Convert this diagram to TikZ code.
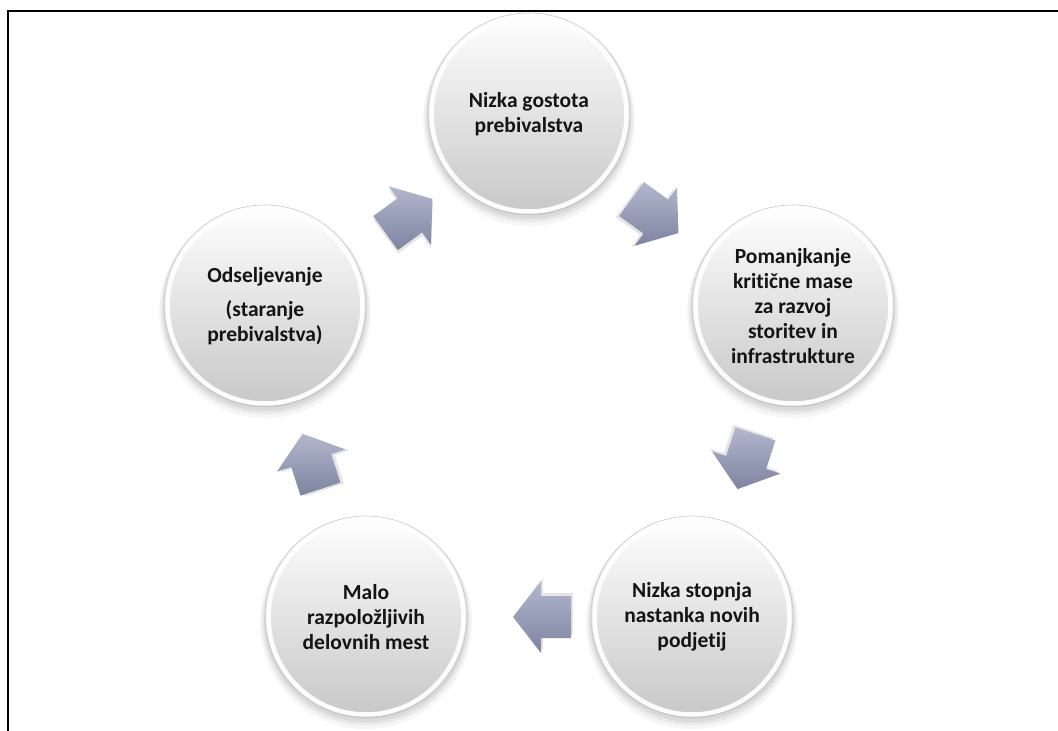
\documentclass[tikz,border=0pt]{standalone}
\usepackage{fontspec}
\setmainfont{Carlito}[Ligatures={NoCommon}]
\usetikzlibrary{calc}
\pgfdeclarelayer{background}
\pgfdeclarelayer{canvas}
\pgfsetlayers{canvas,background,main}
\definecolor{arrowlight}{RGB}{178,183,206}
\definecolor{arrowdark}{RGB}{126,132,160}
\definecolor{txt}{RGB}{20,20,20}
\tikzset{
  ball/.style={circle, minimum size=204pt, inner sep=0pt, align=center,
    font=\bfseries\fontsize{21.5}{25}\selectfont, text=txt},
  arrowshade/.style={top color=arrowlight, bottom color=arrowdark},
  arrowshadow/.style={fill=black, opacity=0.10},
}
\newcommand{\ballbg}[1]{%
  \fill[black, opacity=0.04] ($(#1.center)+(0,6)$) circle (106pt);
  \fill[black, opacity=0.05] ($(#1.center)+(0,4)$) circle (104pt);
  \fill[black, opacity=0.06] ($(#1.center)+(0,3)$) circle (102pt);
  \shade[top color=white, middle color=black!3, bottom color=black!22] (#1.center) circle (101pt);
  \draw[white, line width=4.5pt, opacity=0.95] (#1.center) circle (97.5pt);
  \draw[black!22, line width=0.6pt] (#1.center) circle (101pt);
}
% #1 from, #2 to, #3 fraction, #4 angle, #5 extra shift
\newcommand{\blockarrow}[5]{%
  \begin{scope}[shift={($(#1)!#3!(#2)+(#5)$)}, rotate=#4]
    \fill[arrowshadow] (-31,-18) -- (-1,-18) -- (-1,-33) -- (27,3) -- (-1,39) -- (-1,24) -- (-31,24) -- cycle;
    \shade[arrowshade] (-29,-21) -- (1,-21) -- (1,-36) -- (29,0) -- (1,36) -- (1,21) -- (-29,21) -- cycle;
  \end{scope}
}
\begin{document}
\begin{tikzpicture}[x=1pt,y=-1pt]
\useasboundingbox (0,0) rectangle (1058,731);
\begin{pgfonlayer}{canvas}
  \fill[white] (0,0) rectangle (1058,731);
\end{pgfonlayer}

\node[ball] (t)  at (529,114) {Nizka gostota\\prebivalstva};
\node[ball] (r)  at (793,306) {Pomanjkanje\\kritične mase\\za razvoj\\storitev in\\infrastrukture};
\node[ball] (br) at (692,617) {Nizka stopnja\\nastanka novih\\podjetij};
\node[ball] (bl) at (366,617) {Malo\\razpoložljivih\\delovnih mest};
\node[ball] (l)  at (265,306) {Odseljevanje\\[9pt](staranje\\prebivalstva)};

\begin{pgfonlayer}{background}
  \ballbg{t}\ballbg{r}\ballbg{br}\ballbg{bl}\ballbg{l}
  \blockarrow{t}{r}{0.5}{-36}{-6,6}
  \blockarrow{r}{br}{0.5}{-108}{4,0}
  \blockarrow{br}{bl}{0.46}{180}{0,0}
  \blockarrow{bl}{l}{0.5}{108}{-4,0}
  \blockarrow{l}{t}{0.5}{36}{12,6}
\end{pgfonlayer}

\draw[line width=2.2pt] (8,731) -- (8,11) -- (1058,11);
\end{tikzpicture}
\end{document}
